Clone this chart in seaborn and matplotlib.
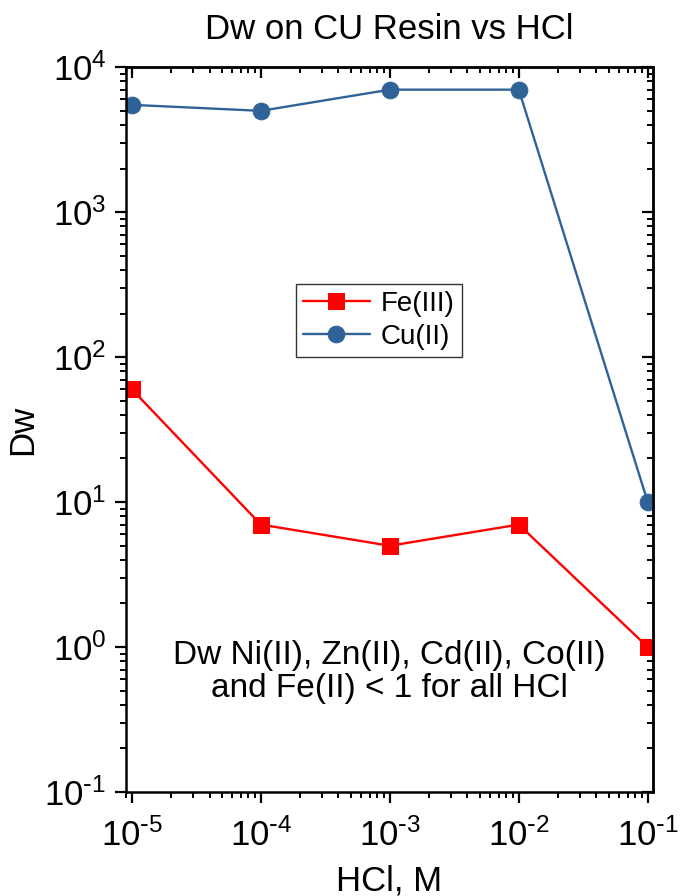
import numpy as np
import pandas as pd
import matplotlib
matplotlib.use("Agg")
import matplotlib.pyplot as plt
import matplotlib.ticker as mticker
import seaborn as sns

sns.set_theme(style="white")
plt.rcParams["font.family"] = ["Liberation Sans", "DejaVu Sans"]
plt.rcParams["mathtext.default"] = "regular"
plt.rcParams["axes.unicode_minus"] = False
for k in ["text.color", "axes.labelcolor", "xtick.color", "ytick.color"]:
    plt.rcParams[k] = "black"

# data
hcl = [1e-5, 1e-4, 1e-3, 1e-2, 1e-1]
fe3 = [60, 7, 5, 7, 1]
cu2 = [5500, 5000, 7000, 7000, 10]

RED = "#FF0000"
BLUE = "#2F6398"


def pow10(v, pos):
    e = int(round(np.log10(v)))
    s = str(e).replace("-", r"\text{-}")
    return rf"$10^{{{s}}}$"


fig = plt.figure(figsize=(6.8, 8.96), dpi=100)
ax = fig.add_axes([0.185, 0.116, 0.775, 0.809])

sns.lineplot(x=hcl, y=fe3, ax=ax, color=RED, marker="s", markersize=11,
             markeredgecolor=RED, lw=1.7, label="Fe(III)")
sns.lineplot(x=hcl, y=cu2, ax=ax, color=BLUE, marker="o", markersize=12,
             markeredgecolor=BLUE, lw=1.7, label="Cu(II)")

ax.set_xscale("log")
ax.set_yscale("log")
ax.set_xlim(10 ** -5.047, 10 ** -0.961)
ax.set_ylim(1e-1, 1e4)
for axis in (ax.xaxis, ax.yaxis):
    axis.set_major_locator(mticker.LogLocator(base=10, numticks=12))
    axis.set_minor_locator(mticker.LogLocator(base=10, subs=np.arange(2, 10), numticks=12))
    axis.set_major_formatter(mticker.FuncFormatter(pow10))
    axis.set_minor_formatter(mticker.NullFormatter())

for s in ax.spines.values():
    s.set_color("black")
    s.set_linewidth(1.8)

ax.tick_params(which="major", direction="out", length=8, width=1.6, labelsize=25)
ax.tick_params(axis="x", which="major", pad=11)
ax.tick_params(axis="y", which="major", pad=6)
ax.tick_params(which="minor", direction="out", length=4, width=1.4)
ax.tick_params(which="both", bottom=True, left=True, top=False, right=False)

# mirrored ticks on top/right, pointing inward
top = ax.secondary_xaxis("top")
right = ax.secondary_yaxis("right")
for sec, axis in [(top, top.xaxis), (right, right.yaxis)]:
    axis.set_major_locator(mticker.LogLocator(base=10, numticks=12))
    axis.set_minor_locator(mticker.LogLocator(base=10, subs=np.arange(2, 10), numticks=12))
    axis.set_major_formatter(mticker.NullFormatter())
    axis.set_minor_formatter(mticker.NullFormatter())
    sec.tick_params(which="major", direction="in", length=8, width=1.6)
    sec.tick_params(which="minor", direction="in", length=4, width=1.4)
    for s in sec.spines.values():
        s.set_linewidth(1.8)

ax.set_title("Dw on CU Resin vs HCl", fontsize=25, pad=20)
ax.set_xlabel("HCl, M", fontsize=25, labelpad=8)
ax.set_ylabel("Dw", fontsize=25, labelpad=4)

ax.text(0.5, 0.166, "Dw Ni(II), Zn(II), Cd(II), Co(II)\nand Fe(II) < 1 for all HCl",
        transform=ax.transAxes, ha="center", va="center", fontsize=24,
        linespacing=1.1)

leg = ax.legend(loc="center", bbox_to_anchor=(0.48, 0.651), fontsize=20,
                frameon=True, fancybox=False, edgecolor="black",
                handlelength=2.4, borderpad=0.25, labelspacing=0.25,
                handletextpad=0.4, borderaxespad=0)
leg.get_frame().set_linewidth(1.0)

fig.savefig("out.png", dpi=100)
